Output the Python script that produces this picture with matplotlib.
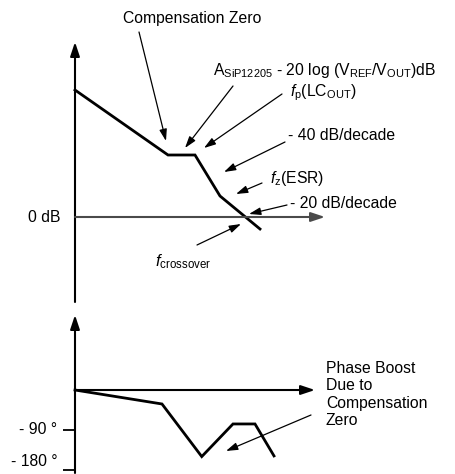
import matplotlib
matplotlib.use("Agg")
import matplotlib.pyplot as plt

plt.rcParams['font.family'] = ['Liberation Sans', 'DejaVu Sans']
plt.rcParams['mathtext.fontset'] = 'custom'
plt.rcParams['mathtext.rm'] = 'Liberation Sans'
plt.rcParams['mathtext.it'] = 'Liberation Sans:italic'
plt.rcParams['mathtext.default'] = 'rm'

# gain curve (asymptotes), arbitrary log-frequency units
mag_freq = [0, 37.2, 48, 58, 74]
mag_db = [50.8, 24.8, 24.8, 8.4, -4.8]

# phase curve
phase_freq = [0, 34.8, 50.7, 63.2, 72, 79.6]
phase_deg = [0, -31.5, -150, -76.5, -76.5, -148.5]
phase_ticks = [-90, -180]
phase_labels = ["- 90 °", "- 180 °"]

W, H = 456, 474
fs = 11.3
fig = plt.figure(figsize=(W / 100, H / 100), dpi=100)

axis_arrow = dict(arrowstyle='-|>,head_length=0.6,head_width=0.2', mutation_scale=14,
                  lw=1.5, color='black', shrinkA=0, shrinkB=0)
note_arrow = dict(arrowstyle='-|>,head_length=0.5,head_width=0.16', mutation_scale=14,
                  lw=0.9, color='black', shrinkA=0, shrinkB=0)

# ---- gain plot ----
ax1 = fig.add_axes([75 / W, (H - 302) / H, 250 / W, 260 / H])
ax1.set_xlim(0, 100)
ax1.set_ylim(-34, 70)
ax1.axis('off')

ax1.annotate('', xy=(0, 70), xytext=(0, -34), arrowprops=axis_arrow, annotation_clip=False)
ax1.annotate('', xy=(100, 0), xytext=(0, 0),
             arrowprops=dict(axis_arrow, color='#4a4a4a'), annotation_clip=False)
ax1.text(-6, 0, "0 dB", ha='right', va='center', fontsize=fs)
ax1.plot(mag_freq, mag_db, color='black', lw=2, solid_joinstyle='miter', clip_on=False)

ax1.text(46.8, 79.6, "Compensation Zero", ha='center', va='center', fontsize=fs)
ax1.annotate('', xy=(36.4, 30.4), xytext=(25.6, 74), arrowprops=note_arrow, annotation_clip=False)

ax1.text(55.2, 58.8, r"A$_{\mathrm{SiP12205}}$ - 20 log (V$_{\mathrm{REF}}$/V$_{\mathrm{OUT}}$)dB",
         ha='left', va='center', fontsize=fs)
ax1.annotate('', xy=(44, 27.6), xytext=(63.2, 52.4), arrowprops=note_arrow, annotation_clip=False)

ax1.text(86, 49.6, r"$\mathit{f}_{\mathrm{p}}$(LC$_{\mathrm{OUT}}$)", ha='left', va='center', fontsize=fs)
ax1.annotate('', xy=(51.6, 27.6), xytext=(82.8, 49.2), arrowprops=note_arrow, annotation_clip=False)

ax1.text(85.2, 32.8, "- 40 dB/decade", ha='left', va='center', fontsize=fs)
ax1.annotate('', xy=(59.6, 18), xytext=(84, 30), arrowprops=note_arrow, annotation_clip=False)

ax1.text(78, 15.2, r"$\mathit{f}_{\mathrm{z}}$(ESR)", ha='left', va='center', fontsize=fs)
ax1.annotate('', xy=(64.4, 9.2), xytext=(74.8, 13.6), arrowprops=note_arrow, annotation_clip=False)

ax1.text(86, 5.6, "- 20 dB/decade", ha='left', va='center', fontsize=fs)
ax1.annotate('', xy=(69.6, 1.2), xytext=(84.8, 4.8), arrowprops=note_arrow, annotation_clip=False)

ax1.text(32, -18, r"$\mathit{f}_{\mathrm{crossover}}$", ha='left', va='center', fontsize=fs * 1.05)
ax1.annotate('', xy=(66.4, -2.8), xytext=(48.8, -11.2), arrowprops=note_arrow, annotation_clip=False)

# ---- phase plot ----
ax2 = fig.add_axes([75 / W, 1 / H, 250 / W, 158 / H])
ax2.set_xlim(0, 100)
ax2.set_ylim(-187, 169)
for s in ['top', 'right', 'bottom', 'left']:
    ax2.spines[s].set_visible(False)
ax2.set_xticks([])
ax2.set_yticks(phase_ticks)
ax2.set_yticklabels([])
ax2.tick_params(axis='y', length=8.6, width=1.3)
# tick labels: the lower one sits a little above its tick in the reference
ax2.text(-7, phase_ticks[0], phase_labels[0], ha='right', va='center', fontsize=fs)
ax2.text(-7, phase_ticks[1] + 18, phase_labels[1], ha='right', va='center', fontsize=fs)

ax2.annotate('', xy=(0, 169), xytext=(0, -187), arrowprops=axis_arrow, annotation_clip=False)
ax2.annotate('', xy=(96, 0), xytext=(0, 0), arrowprops=axis_arrow, annotation_clip=False)
ax2.plot(phase_freq, phase_deg, color='black', lw=2, solid_joinstyle='miter', clip_on=False)

ax2.text(100.4, -10.1, "Phase Boost\nDue to\nCompensation\nZero", ha='left', va='center',
         fontsize=fs, linespacing=1.2)
ax2.annotate('', xy=(60.4, -137.4), xytext=(94.4, -56.3), arrowprops=note_arrow, annotation_clip=False)

fig.savefig("out.png", dpi=100)
